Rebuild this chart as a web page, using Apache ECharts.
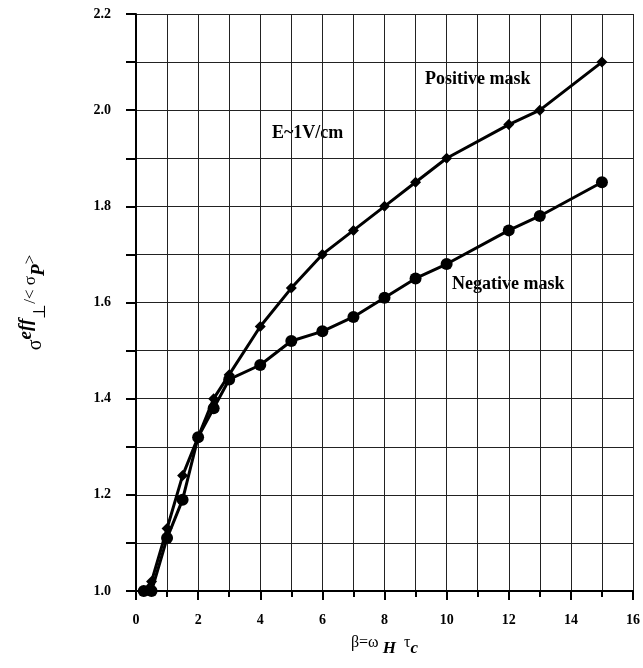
<!DOCTYPE html>
<html>
<head>
<meta charset="utf-8">
<script src="https://cdn.jsdelivr.net/npm/echarts@6/dist/echarts.min.js"></script>
<style>
  html, body { margin: 0; padding: 0; background: #fff; }
  #chart { width: 643px; height: 668px; }
</style>
</head>
<body>
<div id="chart"></div>
<script>
// beta = omega_H * tau_c
const betaPositive = [0.25, 0.5, 1, 1.5, 2, 2.5, 3, 4, 5, 6, 7, 8, 9, 10, 12, 13, 15];
const sigmaPositive = [1.0, 1.02, 1.13, 1.24, 1.32, 1.40, 1.45, 1.55, 1.63, 1.70, 1.75, 1.80, 1.85, 1.90, 1.97, 2.00, 2.10];

const betaNegative = [0.25, 0.5, 1, 1.5, 2, 2.5, 3, 4, 5, 6, 7, 8, 9, 10, 12, 13, 15];
const sigmaNegative = [1.0, 1.0, 1.11, 1.19, 1.32, 1.38, 1.44, 1.47, 1.52, 1.54, 1.57, 1.61, 1.65, 1.68, 1.75, 1.78, 1.85];

const serif = 'Liberation Serif';

const zip = (xs, ys) => xs.map((x, i) => [x, ys[i]]);

const chart = echarts.init(document.getElementById('chart'));

const option = {
  animation: false,
  backgroundColor: '#fff',
  grid: { left: 136, right: 6, top: 14, bottom: 77 },
  xAxis: {
    type: 'value',
    min: 0, max: 16, interval: 2,
    name: '{b|β=ω}{sub| H}{b|  τ}{sub|c}',
    nameLocation: 'middle',
    nameGap: 38,
    nameTextStyle: {
      rich: {
        b: { fontFamily: serif, fontSize: 16, color: '#000' },
        sub: { fontFamily: serif, fontSize: 17, fontWeight: 'bold', fontStyle: 'italic', color: '#000', padding: [11, 0, 0, 0] }
      }
    },
    axisLine: { lineStyle: { color: '#000', width: 2 } },
    axisTick: { inside: false, length: 9, lineStyle: { color: '#000', width: 2 } },
    minorTick: { show: true, splitNumber: 2, length: 6, lineStyle: { color: '#000', width: 2 } },
    minorSplitLine: { show: true, lineStyle: { color: '#222', width: 1 } },
    axisLabel: {
      fontFamily: serif, fontWeight: 'bold', fontSize: 14, color: '#000', margin: 22
    },
    splitLine: { show: true, lineStyle: { color: '#222', width: 1 } }
  },
  yAxis: {
    type: 'value',
    min: 1.0, max: 2.2, interval: 0.1,
    name: '{s|σ}{sup|eff}{sub|⊥}{s2|/< σ}{subP|P}{s2|>}',
    nameLocation: 'middle',
    nameGap: 82,
    nameRotate: 90,
    nameTextStyle: {
      rich: {
        s: { fontFamily: serif, fontSize: 20, color: '#000' },
        s2: { fontFamily: serif, fontSize: 17, color: '#000', padding: [0, 0, 10, 0] },
        sup: { fontFamily: serif, fontSize: 19, fontWeight: 'bold', fontStyle: 'italic', color: '#000', padding: [0, 0, 18, 0] },
        sub: { fontFamily: serif, fontSize: 17, color: '#000', padding: [10, 0, 0, 0] },
        subP: { fontFamily: serif, fontSize: 19, fontWeight: 'bold', fontStyle: 'italic', color: '#000', padding: [8, 0, 0, 0] }
      }
    },
    axisLine: { show: true, lineStyle: { color: '#000', width: 2 } },
    axisTick: { show: true, inside: false, length: 10, lineStyle: { color: '#000', width: 2 } },
    axisLabel: {
      fontFamily: serif, fontWeight: 'bold', fontSize: 14, color: '#000', margin: 25,
      formatter: v => (Math.round(v * 10) % 2 === 0 ? v.toFixed(1) : '')
    },
    splitLine: { show: true, lineStyle: { color: '#222', width: 1 } }
  },
  graphic: [
    { type: 'text', left: 425, top: 70, style: { text: 'Positive mask', font: 'bold 18px "Liberation Serif"', fill: '#000' } },
    { type: 'text', left: 272, top: 124, style: { text: 'E~1V/cm', font: 'bold 18px "Liberation Serif"', fill: '#000' } },
    { type: 'text', left: 452, top: 275, style: { text: 'Negative mask', font: 'bold 18px "Liberation Serif"', fill: '#000' } }
  ],
  series: [
    {
      name: 'Positive mask',
      type: 'line',
      data: zip(betaPositive, sigmaPositive),
      symbol: 'diamond',
      symbolSize: 11,
      lineStyle: { color: '#000', width: 3 },
      itemStyle: { color: '#000' },
      z: 3
    },
    {
      name: 'Negative mask',
      type: 'line',
      data: zip(betaNegative, sigmaNegative),
      symbol: 'circle',
      symbolSize: 12,
      lineStyle: { color: '#000', width: 3 },
      itemStyle: { color: '#000' },
      z: 3
    }
  ]
};

chart.setOption(option);
</script>
</body>
</html>
